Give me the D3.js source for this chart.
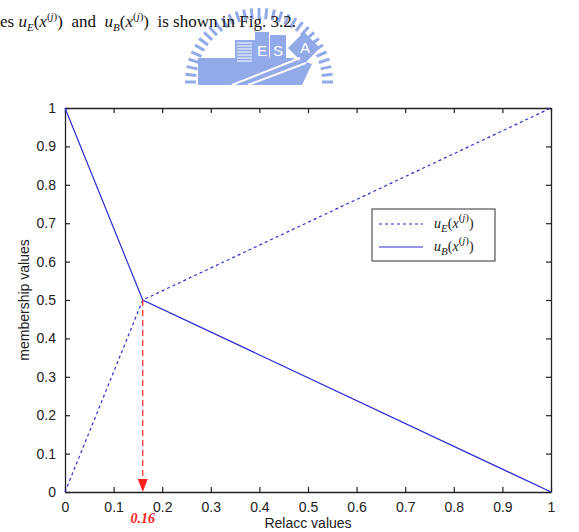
<!DOCTYPE html>
<html>
<head>
<meta charset="utf-8">
<script src="https://cdn.jsdelivr.net/npm/d3@7"></script>
<style>
  body { margin: 0; background: #fff; }
  .tick text { font-family: Arial, "Liberation Sans", sans-serif; font-size: 14px; fill: #222; }
  .axis-label { font-family: Arial, "Liberation Sans", sans-serif; font-size: 14px; fill: #222; }
  .serif { font-family: "Times New Roman", "Liberation Serif", serif; }
</style>
</head>
<body>
<div id="chart"></div>
<script>
const width = 579, height = 532;
const margin = {top: 108, right: 28, bottom: 40, left: 65};
const innerWidth = width - margin.left - margin.right;
const innerHeight = 492 - margin.top;

// data
const relaccE = [0, 0.16, 1];
const valuesE = [0, 0.5, 1];
const relaccB = [0, 0.16, 1];
const valuesB = [1, 0.5, 0];
const tickValues = [0, 0.1, 0.2, 0.3, 0.4, 0.5, 0.6, 0.7, 0.8, 0.9, 1];
const cutoff = 0.16;
const cutoffValue = 0.5;

const lineColor = "#2b2bd6";
const logoColor = "#93aae8";

const svg = d3.select("#chart")
    .append("svg")
    .attr("width", width)
    .attr("height", height);

// faint watermark emblem behind the page text
svg.append("clipPath").attr("id", "logo-clip")
    .append("rect").attr("x", 0).attr("y", 0).attr("width", width).attr("height", 85);
const logo = svg.append("g").attr("clip-path", "url(#logo-clip)");
const lcx = 259, lcy = 82, lr = 74;
d3.range(-180, 1, 6).forEach(a => {
    const t = a * Math.PI / 180;
    logo.append("line")
        .attr("x1", lcx + (lr - 11) * Math.cos(t)).attr("y1", lcy + (lr - 11) * Math.sin(t))
        .attr("x2", lcx + lr * Math.cos(t)).attr("y2", lcy + lr * Math.sin(t))
        .attr("stroke", logoColor).attr("stroke-width", 3);
});
logo.append("path")
    .attr("d", "M198,58 L292,58 L312,64 L302,85 L198,85 Z")
    .attr("fill", logoColor);
logo.append("rect").attr("x", 235).attr("y", 40).attr("width", 20).attr("height", 25).attr("fill", logoColor);
d3.range(43, 63, 3).forEach(y => {
    logo.append("line").attr("x1", 237).attr("x2", 252).attr("y1", y).attr("y2", y)
        .attr("stroke", "#fff").attr("stroke-width", 1);
});
logo.append("rect").attr("x", 255).attr("y", 32).attr("width", 14).attr("height", 30).attr("fill", logoColor);
logo.append("rect").attr("x", 270).attr("y", 35).attr("width", 16).attr("height", 27).attr("fill", logoColor);
logo.append("path").attr("d", "M288,48 L304,32 L320,48 L304,64 Z").attr("fill", logoColor);
[["E", 262, 56], ["S", 278, 56], ["A", 305, 53]].forEach(([s, x, y]) => {
    logo.append("text").attr("x", x).attr("y", y).attr("text-anchor", "middle")
        .attr("font-family", "Arial, sans-serif").attr("font-size", 15)
        .attr("fill", "#fff").text(s);
});
logo.append("line").attr("x1", 232).attr("y1", 85).attr("x2", 300).attr("y2", 58)
    .attr("stroke", "#fff").attr("stroke-width", 2);
logo.append("line").attr("x1", 248).attr("y1", 85).attr("x2", 306).attr("y2", 63)
    .attr("stroke", "#fff").attr("stroke-width", 2);

// header text from the page
const header = svg.append("text")
    .attr("class", "serif")
    .attr("x", 0)
    .attr("y", 27)
    .attr("font-size", 17)
    .attr("fill", "#111");
const addMath = (g, sub) => {
    g.append("tspan").attr("font-style", "italic").text("u");
    g.append("tspan").attr("font-style", "italic").attr("font-size", 11).attr("dy", 4).text(sub);
    g.append("tspan").attr("dy", -4).text("(");
    g.append("tspan").attr("font-style", "italic").text("x");
    g.append("tspan").attr("font-size", 11).attr("dy", -7).text("(");
    g.append("tspan").attr("font-size", 11).attr("font-style", "italic").text("j");
    g.append("tspan").attr("font-size", 11).text(")");
    g.append("tspan").attr("dy", 7).text(")");
};
header.append("tspan").text("es ");
addMath(header, "E");
header.append("tspan").text("\u00a0\u00a0and\u00a0\u00a0");
addMath(header, "B");
header.append("tspan").text("\u00a0\u00a0is shown in Fig. 3.2.");

const innerChart = svg.append("g")
    .attr("transform", `translate(${margin.left},${margin.top})`);

const xScale = d3.scaleLinear().domain([0, 1]).range([0, innerWidth]);
const yScale = d3.scaleLinear().domain([0, 1]).range([innerHeight, 0]);

// axes with inward ticks (matlab box style)
const tickFmt = d => d === 0 || d === 1 ? d3.format("d")(d) : d3.format(".1f")(d);
const bottomAxis = d3.axisBottom(xScale).tickValues(tickValues).tickFormat(tickFmt)
    .tickSizeInner(-5).tickSizeOuter(0).tickPadding(10);
const leftAxis = d3.axisLeft(yScale).tickValues(tickValues).tickFormat(tickFmt)
    .tickSizeInner(-5).tickSizeOuter(0).tickPadding(9);
const topAxis = d3.axisTop(xScale).tickValues(tickValues)
    .tickSizeInner(-5).tickSizeOuter(0);
const rightAxis = d3.axisRight(yScale).tickValues(tickValues)
    .tickSizeInner(-5).tickSizeOuter(0);

innerChart.append("g").attr("transform", `translate(0,${innerHeight})`).call(bottomAxis);
innerChart.append("g").call(leftAxis);
innerChart.append("g").attr("class", "no-labels").call(topAxis);
innerChart.append("g").attr("class", "no-labels").attr("transform", `translate(${innerWidth},0)`).call(rightAxis);
innerChart.selectAll(".no-labels .tick text").remove();
innerChart.selectAll(".domain").attr("stroke", "#222").attr("stroke-width", 1.3);
innerChart.selectAll(".tick line").attr("stroke", "#222").attr("stroke-width", 1.2);

// lines
const line = d3.line().x(d => xScale(d[0])).y(d => yScale(d[1]));
innerChart.append("path")
    .datum(d3.zip(relaccE, valuesE))
    .attr("d", line)
    .attr("fill", "none")
    .attr("stroke", lineColor)
    .attr("stroke-width", 1.2)
    .attr("stroke-dasharray", "3,3");
innerChart.append("path")
    .datum(d3.zip(relaccB, valuesB))
    .attr("d", line)
    .attr("fill", "none")
    .attr("stroke", lineColor)
    .attr("stroke-width", 1.2);

// red marker of the crossing point
const cx = xScale(cutoff);
innerChart.append("line")
    .attr("x1", cx).attr("x2", cx)
    .attr("y1", yScale(cutoffValue)).attr("y2", yScale(0) - 12)
    .attr("stroke", "#ff2020")
    .attr("stroke-width", 1.2)
    .attr("stroke-dasharray", "6,4");
innerChart.append("path")
    .attr("d", `M${cx - 5},${yScale(0) - 13} L${cx + 5},${yScale(0) - 13} L${cx},${yScale(0)} Z`)
    .attr("fill", "#ff2020");
innerChart.append("text")
    .attr("class", "serif")
    .attr("x", cx)
    .attr("y", innerHeight + 31)
    .attr("text-anchor", "middle")
    .attr("font-style", "italic")
    .attr("font-weight", "bold")
    .attr("font-size", 14)
    .attr("fill", "#ff2020")
    .text(d3.format(".2f")(cutoff));

// axis labels
svg.append("text")
    .attr("class", "axis-label")
    .attr("text-anchor", "middle")
    .attr("x", margin.left + xScale(0.5))
    .attr("y", 528)
    .text("Relacc values");
svg.append("text")
    .attr("class", "axis-label")
    .attr("text-anchor", "middle")
    .attr("transform", `translate(29,${margin.top + yScale(0.5)}) rotate(-90)`)
    .text("membership values");

// legend
const legend = svg.append("g").attr("transform", "translate(372,209)");
legend.append("rect")
    .attr("width", 123).attr("height", 52)
    .attr("fill", "#fff").attr("stroke", "#333").attr("stroke-width", 1);
const legendItems = [
    {sub: "E", dash: "3,3", y: 15},
    {sub: "B", dash: null, y: 38}
];
legendItems.forEach(item => {
    legend.append("line")
        .attr("x1", 7).attr("x2", 51)
        .attr("y1", item.y).attr("y2", item.y)
        .attr("stroke", lineColor)
        .attr("stroke-width", 1.2)
        .attr("stroke-dasharray", item.dash);
    const t = legend.append("text")
        .attr("class", "serif")
        .attr("x", 62).attr("y", item.y + 4)
        .attr("font-size", 14)
        .attr("fill", "#222");
    addMath(t, item.sub);
});
</script>
</body>
</html>
